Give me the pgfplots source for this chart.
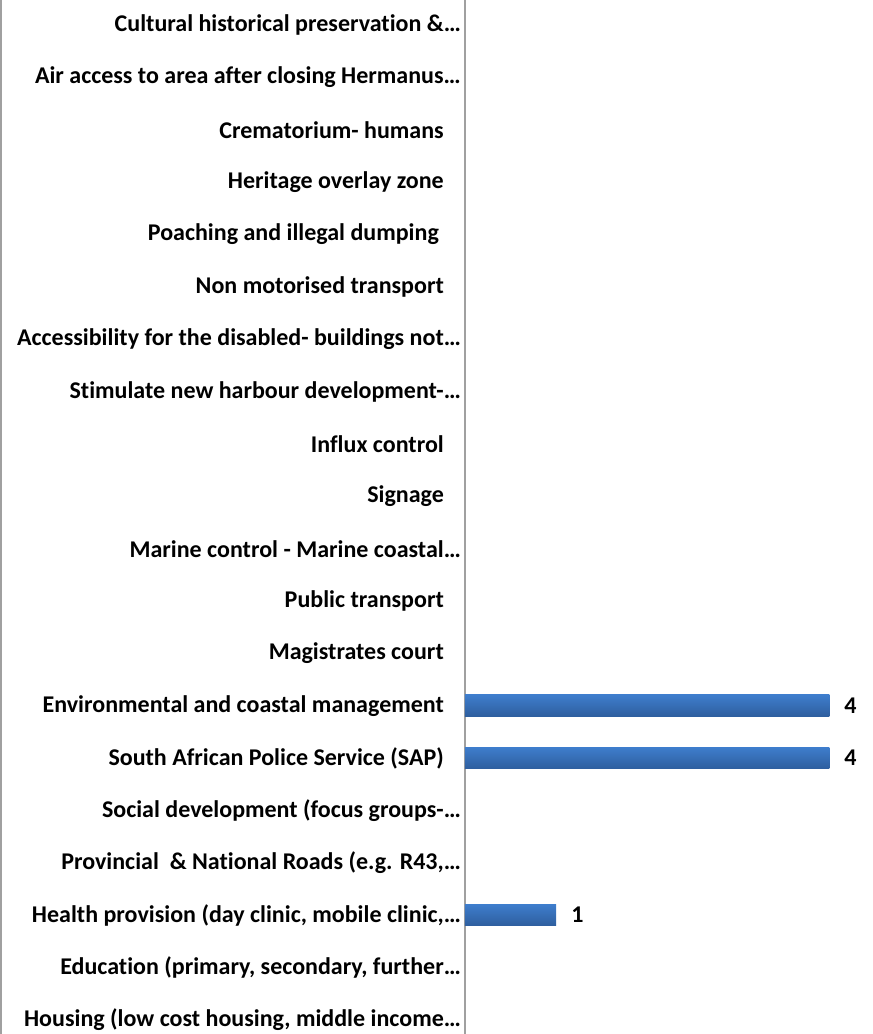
\documentclass[border=0pt]{standalone}
\usepackage{pgfplots}
\usepackage{pgfplotstable}
\pgfplotsset{compat=1.18}
\usepackage{fontspec}
\setmainfont{Carlito}[Ligatures=NoCommon]
\definecolor{bartop}{HTML}{3E7DCC}
\definecolor{barbot}{HTML}{2E5E9E}
\definecolor{axgray}{HTML}{A0A0A0}
\newcommand{\tsp}{\kern17pt}
\pgfplotstableread{
i v
0 0
1 0
2 1
3 0
4 0
5 4
6 4
7 0
8 0
9 0
10 0
11 0
12 0
13 0
14 0
15 0
16 0
17 0
18 0
19 0
}\datatable
\begin{document}
\begin{tikzpicture}
\useasboundingbox (0pt,0pt) rectangle (873pt,1034pt);
\draw[axgray, line width=1.5pt] (0.75pt,0pt) -- (0.75pt,1034pt);
\begin{axis}[
  at={(465pt,0pt)}, anchor=south west,
  scale only axis, width=408pt, height=1034pt,
  xbar, bar width=21.5pt, bar shift=0pt,
  xmin=0, xmax=4.48,
  ymin=-0.27, ymax=19.48,
  axis x line=none,
  axis y line*=left,
  y axis line style={axgray, line width=1.5pt, -},
  major tick length=0pt,
  ytick={0,...,19},
  yticklabels={
    {Housing (low cost housing, middle income…},
    {Education (primary, secondary, further…},
    {Health provision (day clinic, mobile clinic,…},
    {Provincial\ \ \& National Roads (e.g. R43,…},
    {Social development (focus groups-…},
    {South African Police Service (SAP)\tsp},
    {Environmental and coastal management\tsp},
    {Magistrates court\tsp},
    {Public transport\tsp},
    {Marine control - Marine coastal…},
    {Signage\tsp},
    {Influx control\tsp},
    {Stimulate new harbour development-…},
    {Accessibility for the disabled- buildings not…},
    {Non motorised transport\tsp},
    {Poaching and illegal dumping\kern22pt},
    {Heritage overlay zone\tsp},
    {Crematorium- humans\tsp},
    {Air access to area after closing Hermanus…},
    {Cultural historical preservation \&…}
  },
  yticklabel style={font=\fontsize{24}{28}\selectfont\bfseries, anchor=east, inner sep=0pt, xshift=-4pt},
  restrict x to domain=0.1:100,
  nodes near coords,
  /pgf/number format/assume math mode=true,
  every node near coord/.append style={font=\fontsize{24}{28}\selectfont\bfseries, anchor=west, inner sep=0pt, xshift=15pt},
  clip=false,
]
\pgfplotsinvokeforeach{0,...,19}{
  \addplot[draw=none, top color=bartop, bottom color=barbot,
    restrict y to domain=#1.0:#1.5] table[x=v, y=i] {\datatable};
}
\end{axis}
\end{tikzpicture}
\end{document}
